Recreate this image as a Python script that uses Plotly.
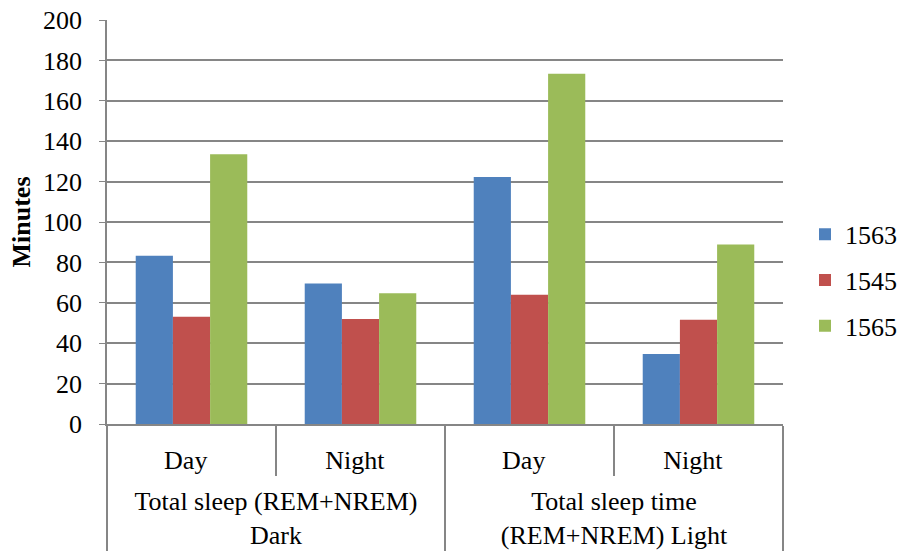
import plotly.graph_objects as go

groups = ["Total sleep (REM+NREM)<br>Dark", "Total sleep (REM+NREM)<br>Dark",
          "Total sleep time<br>(REM+NREM) Light", "Total sleep time<br>(REM+NREM) Light"]
periods = ["Day", "Night", "Day", "Night"]

series_names = ["1563", "1545", "1565"]
s1563 = [83.3, 69.6, 122.3, 34.7]
s1545 = [53.1, 52.0, 64.0, 51.6]
s1565 = [133.5, 64.7, 173.4, 88.8]
colors = ["#4F81BD", "#C0504D", "#9BBB59"]

y_ticks = [0, 20, 40, 60, 80, 100, 120, 140, 160, 180, 200]

# pad inner labels so the outer level sits lower (spacing only, text unchanged)
pad_span = "<span style='font-size:46px'> </span>"
inner = [p + pad_span for p in periods]

fig = go.Figure()
for name, vals, c in zip(series_names, [s1563, s1545, s1565], colors):
    fig.add_trace(go.Bar(x=[groups, inner], y=vals, name=name, legendgroup=name,
                         marker=dict(color=c, line=dict(width=0))))

font = "Liberation Serif"
fs = 26
fig.update_layout(
    width=902, height=553,
    margin=dict(l=107, r=119, t=20, b=129),
    paper_bgcolor="white", plot_bgcolor="white",
    barmode="group", bargap=0.34, bargroupgap=0,
    font=dict(family=font, size=fs, color="black"),
    legend=dict(xref="container", yref="container", x=1.0, y=0.493,
                yanchor="middle", xanchor="right",
                font=dict(family=font, size=fs), itemwidth=30,
                tracegroupgap=9),
    showlegend=True,
)
fig.update_yaxes(range=[0, 200], tickvals=y_ticks, showgrid=True,
                 gridcolor="#868686", gridwidth=1.5, showline=True,
                 linecolor="#868686", linewidth=1.5, ticks="outside",
                 ticklen=6, tickcolor="#868686", zeroline=False,
                 ticklabelstandoff=12, automargin=False, ticklabeloverflow="allow",
                 tickfont=dict(family=font, size=fs),
                 title=dict(text="<b>Minutes</b>", font=dict(family=font, size=fs),
                            standoff=5))
fig.update_xaxes(type="multicategory", showline=True, linecolor="#868686",
                 linewidth=1.5, mirror=False, ticks="outside", tickson="boundaries",
                 ticklen=50, tickcolor="#868686", tickwidth=1.5, automargin=False,
                 ticklabelstandoff=12, ticklabeloverflow="allow",
                 showdividers=True, dividercolor="#868686", dividerwidth=1.5,
                 tickfont=dict(family=font, size=fs))

fig.write_html("out.html", config={"displayModeBar": False},
               post_script="document.body.style.margin = '0';")
